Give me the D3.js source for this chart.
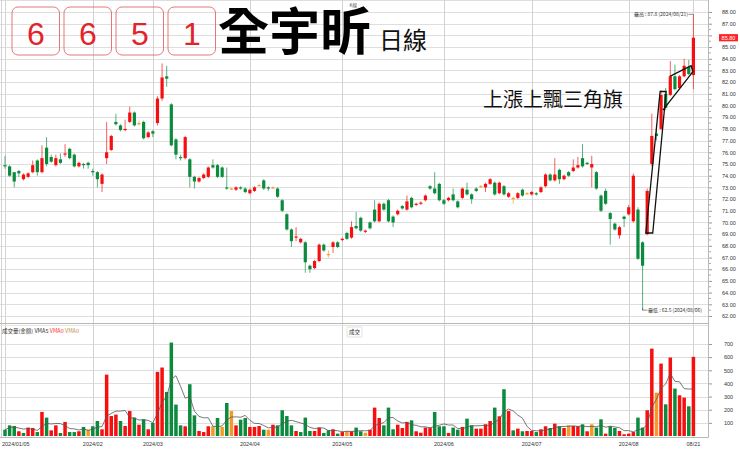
<!DOCTYPE html>
<html><head><meta charset="utf-8">
<script src="https://cdn.jsdelivr.net/npm/d3@7"></script>
<style>
html,body{margin:0;padding:0;background:#fff;}
svg{display:block;}
text{font-family:"Liberation Sans","DejaVu Sans",sans-serif;}
.cjk{font-family:"Noto Sans CJK TC","Noto Sans CJK SC",sans-serif;}
</style></head><body>
<svg id="c" width="740" height="451"></svg>
<script>
// ---------- data ----------
const dates = [
"2024/01/05","2024/01/08","2024/01/09","2024/01/10","2024/01/11","2024/01/12","2024/01/15","2024/01/16","2024/01/17","2024/01/18",
"2024/01/19","2024/01/22","2024/01/23","2024/01/24","2024/01/25","2024/01/26","2024/01/29","2024/01/30","2024/01/31",
"2024/02/01","2024/02/02","2024/02/05","2024/02/15","2024/02/16","2024/02/19","2024/02/20","2024/02/21","2024/02/22","2024/02/23",
"2024/02/26","2024/02/27","2024/02/29",
"2024/03/01","2024/03/04","2024/03/05","2024/03/06","2024/03/07","2024/03/08","2024/03/11","2024/03/12","2024/03/13","2024/03/14",
"2024/03/15","2024/03/18","2024/03/19","2024/03/20","2024/03/21","2024/03/22","2024/03/25","2024/03/26","2024/03/27","2024/03/28","2024/03/29",
"2024/04/01","2024/04/02","2024/04/03","2024/04/08","2024/04/09","2024/04/10","2024/04/11","2024/04/12","2024/04/15","2024/04/16",
"2024/04/17","2024/04/18","2024/04/19","2024/04/22","2024/04/23","2024/04/24","2024/04/25","2024/04/26","2024/04/29","2024/04/30",
"2024/05/02","2024/05/03","2024/05/06","2024/05/07","2024/05/08","2024/05/09","2024/05/10","2024/05/13","2024/05/14","2024/05/15",
"2024/05/16","2024/05/17","2024/05/20","2024/05/21","2024/05/22","2024/05/23","2024/05/24","2024/05/27","2024/05/28","2024/05/29",
"2024/05/30","2024/05/31",
"2024/06/03","2024/06/04","2024/06/05","2024/06/06","2024/06/07","2024/06/11","2024/06/12","2024/06/13","2024/06/14","2024/06/17",
"2024/06/18","2024/06/19","2024/06/20","2024/06/21","2024/06/24","2024/06/25","2024/06/26","2024/06/27","2024/06/28",
"2024/07/01","2024/07/02","2024/07/03","2024/07/04","2024/07/05","2024/07/08","2024/07/09","2024/07/10","2024/07/11","2024/07/12",
"2024/07/15","2024/07/16","2024/07/17","2024/07/18","2024/07/19","2024/07/22","2024/07/23","2024/07/26","2024/07/29","2024/07/30","2024/07/31",
"2024/08/01","2024/08/02","2024/08/05","2024/08/06","2024/08/07","2024/08/08","2024/08/09","2024/08/12","2024/08/13","2024/08/14",
"2024/08/15","2024/08/16","2024/08/19","2024/08/20","2024/08/21"];

const open = [
74.9,74.8,74.3,74.4,73.7,73.9,74.3,75.3,74.3,76.4, 75.6,74.9,75.4,75.8,76.3,75.8,74.8,75.0,75.1,74.4,
74.3,73.3,75.5,76.2,78.6,78.3,77.9,78.6,79.4,78.5, 78.6,77.3,77.8,78.5,80.6,82.5,80.1,77.1,75.6,75.5,
75.4,73.9,73.5,73.8,73.9,74.9,74.9,74.7,73.0,72.9, 72.8,73.0,72.9,72.5,72.7,73.2,73.6,73.0,73.0,72.9,
71.9,70.7,69.4,68.7,68.3,68.3,66.3,66.1,66.7,68.1, 67.3,67.9,68.3,68.5,69.1,68.7,69.7,70.4,69.2,70.0,
71.1,70.1,71.6,71.9,70.5,70.7,71.4,71.1,72.1,71.5, 71.6,71.9,73.1,72.9,73.3,71.9,71.9,72.4,71.8,72.1,
72.8,72.4,72.9,73.1,73.0,73.3,73.4,72.5,73.1,72.2, 72.1,72.1,72.8,72.5,72.4,72.5,72.6,73.1,74.1,73.6,
74.5,73.7,74.3,74.4,74.7,75.5,75.1,74.7,74.3,72.3, 72.7,70.8,69.9,68.9,70.5,70.7,70.1,71.1,68.3,69.0,
75.0,77.6,78.0,81.0,80.9,82.5,81.5,82.5,83.3,82.6];
const high = [
75.7,74.9,74.3,74.5,74.2,74.3,75.3,75.4,76.6,77.3, 75.8,75.8,75.9,76.7,76.4,75.9,75.2,75.1,75.2,74.6,
74.4,74.2,78.6,77.5,79.3,78.4,78.8,79.9,79.5,78.7, 78.7,77.8,77.9,80.8,83.6,83.4,80.2,77.2,75.8,77.4,
75.5,74.0,73.9,74.2,74.8,75.4,75.0,74.8,74.7,73.0, 73.1,73.1,73.0,72.9,73.1,73.3,73.7,73.1,73.1,73.0,
72.0,70.8,69.5,69.6,68.7,68.4,66.4,66.8,68.2,68.2, 67.6,68.4,68.4,68.7,69.2,70.1,70.9,70.5,69.4,70.1,
71.9,71.7,71.7,72.0,70.6,71.1,71.5,72.3,72.2,71.7, 71.8,72.4,73.2,74.3,73.4,72.0,72.2,72.9,71.9,73.0,
73.4,72.5,73.0,73.2,73.4,73.8,73.5,73.5,73.2,72.6, 72.2,72.6,72.9,72.6,72.7,72.6,73.1,74.2,74.2,75.5,
74.6,74.1,74.4,75.4,75.6,76.7,75.2,75.7,74.4,72.4, 72.9,70.9,70.0,69.7,70.6,71.5,74.2,71.3,68.4,72.9,
79.3,78.4,81.3,81.5,83.8,83.5,82.6,84.0,83.9,87.8];
const low = [
74.6,73.9,73.0,73.9,73.6,73.8,74.2,74.0,74.2,74.8, 75.1,74.8,75.0,75.6,75.4,74.7,74.7,74.6,74.6,74.0,
73.0,72.6,75.0,76.1,78.3,77.8,77.8,78.5,78.2,78.3, 77.1,77.2,77.3,78.3,80.4,81.6,76.5,75.4,75.3,75.4,
73.0,72.9,73.4,73.7,73.8,74.6,73.8,73.8,72.8,72.8, 72.7,72.8,72.5,72.4,72.6,73.1,72.8,72.7,72.9,72.1,
70.9,69.3,67.9,68.4,68.2,65.7,65.7,66.0,66.6,67.5, 67.0,67.4,67.8,68.4,68.5,68.6,69.4,69.2,69.1,69.4,
70.0,70.0,71.0,70.0,69.6,70.6,71.1,71.0,71.2,71.4, 71.5,71.8,72.8,72.4,71.8,71.5,71.8,71.8,71.2,72.0,
72.3,71.6,72.6,73.0,72.6,73.2,72.3,72.4,72.3,72.1, 71.6,72.0,72.2,72.4,72.3,72.3,72.5,73.0,73.5,73.5,
73.3,73.6,73.9,74.3,74.6,74.7,74.9,73.0,72.8,70.9, 71.5,68.1,69.3,68.6,69.6,70.6,70.0,66.8,62.5,68.9,
74.8,77.0,77.9,79.6,80.8,81.3,81.4,82.4,82.6,81.4];
const close = [
74.8,74.0,73.5,74.2,74.1,74.2,74.9,74.3,75.5,75.0, 75.2,75.5,75.1,75.9,75.5,74.8,75.1,74.9,74.9,74.3,
73.7,74.1,76.0,77.4,78.4,77.9,78.0,79.4,78.3,78.5, 77.2,77.7,77.6,80.6,82.4,82.3,76.6,75.8,75.5,77.3,
73.9,73.5,73.8,74.1,74.7,74.7,73.9,73.9,72.9,72.9, 73.0,72.9,72.6,72.8,73.0,73.2,72.9,72.9,73.0,72.2,
71.0,69.4,68.4,68.8,68.6,66.6,66.0,66.7,68.1,67.6, 67.3,68.3,67.9,68.6,68.6,69.6,69.5,69.3,69.3,69.5,
70.1,71.6,71.1,70.1,70.0,71.0,71.2,71.8,71.3,71.6, 71.7,72.3,72.9,72.5,71.9,71.6,72.1,71.9,71.3,72.9,
72.4,72.0,72.7,73.1,73.3,73.7,72.4,73.4,72.4,72.5, 72.1,72.5,72.3,72.5,72.6,72.4,73.0,74.1,73.6,74.1,
73.7,74.0,74.0,74.7,74.9,74.8,75.0,75.0,72.9,71.0, 71.6,70.3,69.4,69.6,70.3,71.3,74.0,66.9,66.3,72.7,
77.4,77.4,80.9,79.8,82.5,81.4,82.5,83.4,82.7,85.8];
const volume = [
48,81,76,36,23,64,61,30,183,140, 43,81,23,107,30,30,36,69,48,74,
114,51,467,152,163,114,76,190,140,86, 127,51,99,488,521,335,711,239,81,74,
394,157,38,30,74,74,137,69,251,190, 81,124,137,69,69,76,48,48,86,81,
196,152,81,38,30,140,38,38,64,23, 43,51,18,30,38,36,64,36,25,48,
216,137,81,216,51,86,61,107,119,36, 25,64,64,183,74,74,23,64,48,69,
132,81,56,56,89,114,216,150,356,190, 43,56,36,38,38,30,51,74,61,94,
74,61,81,76,74,89,36,89,64,127, 18,74,61,38,13,18,30,140,64,196,
665,330,551,241,597,361,310,292,226,602];

const priceTicks = [62,63,64,65,66,67,68,69,70,71,72,73,74,75,76,77,78,79,80,81,82,83,84,85,86,87,88];
const volTicks = [100,200,300,400,500,600,700];
const tickDates = ["2024/01/05","2024/02/01","2024/03/01","2024/04/01","2024/05/02","2024/06/03","2024/07/01","2024/08/01","2024/08/21"];
const tickLabels = ["2024/01/05","2024/02","2024/03","2024/04","2024/05","2024/06","2024/07","2024/08","08/21"];
const stockCode = ["6","6","5","1"];
const stockName = "全宇昕";
const patternLabel = "上漲上飄三角旗";
// pattern annotation in (day index, price)
const poleShape = [[138.7,69.1],[140.2,69.1],[143.1,81.2],[141.8,81.2]];
const flagShape = [[143.9,82.5],[148.5,83.4],[148.9,82.9],[142.4,79.6]];

// ---------- chart ----------
const N = dates.length;
const RED = "#f60f0f", GREEN = "#0c8a3e", ORANGE = "#f39b26";
const svg = d3.select("#c");
const PR = 708; // plot right edge
const x = d3.scaleLinear().domain([0, N - 1]).range([5, 693.4]);
const y = d3.scaleLinear().domain([62, 88]).range([316, 12]);
const yv = d3.scaleLinear().domain([0, 700]).range([436, 344]);

const data = dates.map((d, i) => ({i, d, o: open[i], h: high[i], l: low[i], c: close[i], v: volume[i]}));
const candleColor = d => d.c > d.o ? RED : d.c < d.o ? GREEN : ORANGE;
const volColor = d => {
  const p = d.i > 0 ? close[d.i - 1] : d.o;
  return d.c > p ? RED : d.c < p ? GREEN : ORANGE;
};

// gridlines
const g = svg.append("g");
g.selectAll(".hp").data(priceTicks.concat([89])).join("line")
  .attr("x1", 0).attr("x2", PR).attr("y1", d => Math.round(y(d)) + 0.5).attr("y2", d => Math.round(y(d)) + 0.5)
  .attr("stroke", "#dedede").attr("stroke-width", 1);
g.selectAll(".hv").data(volTicks).join("line")
  .attr("x1", 0).attr("x2", PR).attr("y1", d => Math.round(yv(d)) + 0.5).attr("y2", d => Math.round(yv(d)) + 0.5)
  .attr("stroke", "#dedede").attr("stroke-width", 1);
const tickIdx = tickDates.map(t => dates.indexOf(t));
g.selectAll(".vg").data(tickIdx).join("line")
  .attr("x1", d => Math.round(x(d)) + 0.5).attr("x2", d => Math.round(x(d)) + 0.5)
  .attr("y1", 0).attr("y2", 437)
  .attr("stroke", "#d2d2d2").attr("stroke-width", 1);
g.append("line").attr("x1", 1.5).attr("x2", 1.5).attr("y1", 0).attr("y2", 437).attr("stroke", "#d2d2d2");

// frames
svg.append("line").attr("x1", 0).attr("x2", PR).attr("y1", 323.5).attr("y2", 323.5).attr("stroke", "#b8b8b8");
svg.append("line").attr("x1", 0).attr("x2", PR).attr("y1", 325.5).attr("y2", 325.5).attr("stroke", "#e4e4e4");
svg.append("line").attr("x1", 0).attr("x2", PR + 0.5).attr("y1", 437.5).attr("y2", 437.5).attr("stroke", "#b8b8b8");
svg.append("line").attr("x1", PR + 0.5).attr("x2", PR + 0.5).attr("y1", 0).attr("y2", 437.5).attr("stroke", "#b8b8b8");

// title block
const tb = svg.append("g");
stockCode.forEach((ch, k) => {
  tb.append("rect").attr("x", 12 + 52 * k).attr("y", 7).attr("width", 47.5).attr("height", 48)
    .attr("rx", 6).attr("fill", "none").attr("stroke", "#e06a6a").attr("stroke-width", 0.9);
  tb.append("text").attr("x", 12 + 52 * k + 24).attr("y", 45).attr("text-anchor", "middle")
    .attr("font-size", 32).attr("fill", "#e3232a").text(ch);
});
tb.append("text").attr("class", "cjk").attr("x", 218).attr("y", 50).attr("font-size", 51)
  .attr("font-weight", 700).attr("fill", "#000").text(stockName);
tb.append("text").attr("class", "cjk").attr("x", 379).attr("y", 48.5).attr("font-size", 24)
  .attr("fill", "#111").text("日線");
tb.append("text").attr("class", "cjk").attr("x", 349.5).attr("y", 6.5).attr("font-size", 4.5)
  .attr("fill", "#555").text("K線");

// candles
const cg = svg.append("g");
cg.selectAll(".wick").data(data).join("line")
  .attr("x1", d => x(d.i)).attr("x2", d => x(d.i))
  .attr("y1", d => y(d.h)).attr("y2", d => y(d.l))
  .attr("stroke", candleColor).attr("stroke-width", 0.9).attr("stroke-opacity", 0.75);
cg.selectAll(".body").data(data).join("rect")
  .attr("x", d => x(d.i) - 1.6).attr("width", 3.2)
  .attr("y", d => y(Math.max(d.o, d.c)))
  .attr("height", d => Math.max(1.2, Math.abs(y(d.o) - y(d.c))))
  .attr("fill", candleColor);

// volume
const vg = svg.append("g");
vg.selectAll("rect").data(data).join("rect")
  .attr("x", d => x(d.i) - 1.75).attr("width", 3.5)
  .attr("y", d => yv(d.v)).attr("height", d => yv(0) - yv(d.v))
  .attr("fill", volColor);
const vma = data.map(d => {
  const s = Math.max(0, d.i - 4);
  return {i: d.i, v: d3.mean(volume.slice(s, d.i + 1))};
});
vg.append("path").datum(vma)
  .attr("d", d3.line().x(d => x(d.i)).y(d => yv(d.v)))
  .attr("fill", "none").attr("stroke", "#555").attr("stroke-width", 0.8);

const last = data[N - 1];

// price axis (the label hidden under the current-price tag is dropped, as in the original)
const pa = svg.append("g").attr("transform", `translate(${PR + 1},0)`)
  .call(d3.axisRight(y).tickValues(priceTicks).tickFormat(d3.format(".2f")).tickSize(3).tickPadding(10));
pa.select(".domain").remove();
pa.selectAll("line").attr("stroke", "#999");
pa.selectAll("text").attr("font-size", 5.5).attr("fill", "#333")
  .attr("font-family", "Liberation Sans, sans-serif");
pa.selectAll(".tick").filter(d => Math.abs(y(d) - y(last.c)) < 6).select("text").remove();
const minor = d3.range(62.5, 88, 1);
svg.append("g").selectAll("line").data(minor).join("line")
  .attr("x1", PR + 1).attr("x2", PR + 3).attr("y1", d => y(d)).attr("y2", d => y(d)).attr("stroke", "#aaa");

// volume axis
const va = svg.append("g").attr("transform", `translate(${PR + 1},0)`)
  .call(d3.axisRight(yv).tickValues(volTicks).tickSize(3).tickPadding(12));
va.select(".domain").remove();
va.selectAll("line").attr("stroke", "#999");
va.selectAll("text").attr("font-size", 5.5).attr("fill", "#333")
  .attr("font-family", "Liberation Sans, sans-serif");

// x labels
svg.append("g").selectAll("text").data(tickIdx).join("text")
  .attr("x", (d, k) => k === 0 ? 2 : x(d)).attr("y", 446)
  .attr("text-anchor", (d, k) => k === 0 ? "start" : "middle")
  .attr("font-size", 5.5).attr("fill", "#333").text((d, k) => tickLabels[k]);

// current price tag
svg.append("rect").attr("x", 719).attr("y", y(last.c) - 3.6).attr("width", 19).attr("height", 7.2).attr("fill", "#f22");
svg.append("text").attr("x", 728.5).attr("y", y(last.c) + 2).attr("text-anchor", "middle")
  .attr("font-size", 5.5).attr("fill", "#fff").text(last.c.toFixed(2));

// highest / lowest annotations
const hiIdx = d3.maxIndex(high), loIdx = d3.minIndex(low);
svg.append("line").attr("x1", x(hiIdx) - 5).attr("x2", x(hiIdx)).attr("y1", y(high[hiIdx])).attr("y2", y(high[hiIdx])).attr("stroke", "#444").attr("stroke-width", 0.6);
svg.append("text").attr("class", "cjk").attr("x", x(hiIdx) - 5.5).attr("y", y(high[hiIdx]) + 1.8)
  .attr("text-anchor", "end").attr("font-size", 5).attr("fill", "#333")
  .text(`最高 : ${high[hiIdx]} (${dates[hiIdx]})`);
svg.append("path").attr("d", `M${x(loIdx)},${y(low[loIdx]) - 2}V${y(low[loIdx])}H${x(loIdx) + 5}`)
  .attr("fill", "none").attr("stroke", "#444").attr("stroke-width", 0.6);
svg.append("text").attr("class", "cjk").attr("x", x(loIdx) + 5.5).attr("y", y(low[loIdx]) + 1.8)
  .attr("font-size", 5).attr("fill", "#333")
  .text(`最低 : ${low[loIdx]} (${dates[loIdx]})`);

// pattern annotation
const pl = d3.line().x(d => x(d[0])).y(d => y(d[1]));
svg.append("path").attr("d", pl(poleShape) + "Z").attr("fill", "none").attr("stroke", "#111").attr("stroke-width", 1.3);
svg.append("path").attr("d", pl(flagShape)).attr("fill", "none").attr("stroke", "#111").attr("stroke-width", 1.3);
svg.append("text").attr("class", "cjk").attr("x", 483).attr("y", 107).attr("font-size", 20)
  .attr("fill", "#111").text(patternLabel);

// volume legend
const lg = svg.append("text").attr("class", "cjk").attr("x", 2).attr("y", 333).attr("font-size", 5.5).attr("fill", "#333");
lg.append("tspan").text("成交量(金額) ");
lg.append("tspan").attr("fill", "#333").text("VMA5 ");
lg.append("tspan").attr("fill", "#f33").text("VMA0 ");
lg.append("tspan").attr("fill", "#c89050").text("VMA0");
svg.append("rect").attr("x", 347).attr("y", 327).attr("width", 15).attr("height", 10).attr("fill", "#fff")
  .attr("stroke", "#ccc").attr("stroke-width", 0.6).attr("rx", 1);
svg.append("text").attr("class", "cjk").attr("x", 354.5).attr("y", 334).attr("text-anchor", "middle")
  .attr("font-size", 5.5).attr("fill", "#333").text("成交");
</script>
</body></html>
